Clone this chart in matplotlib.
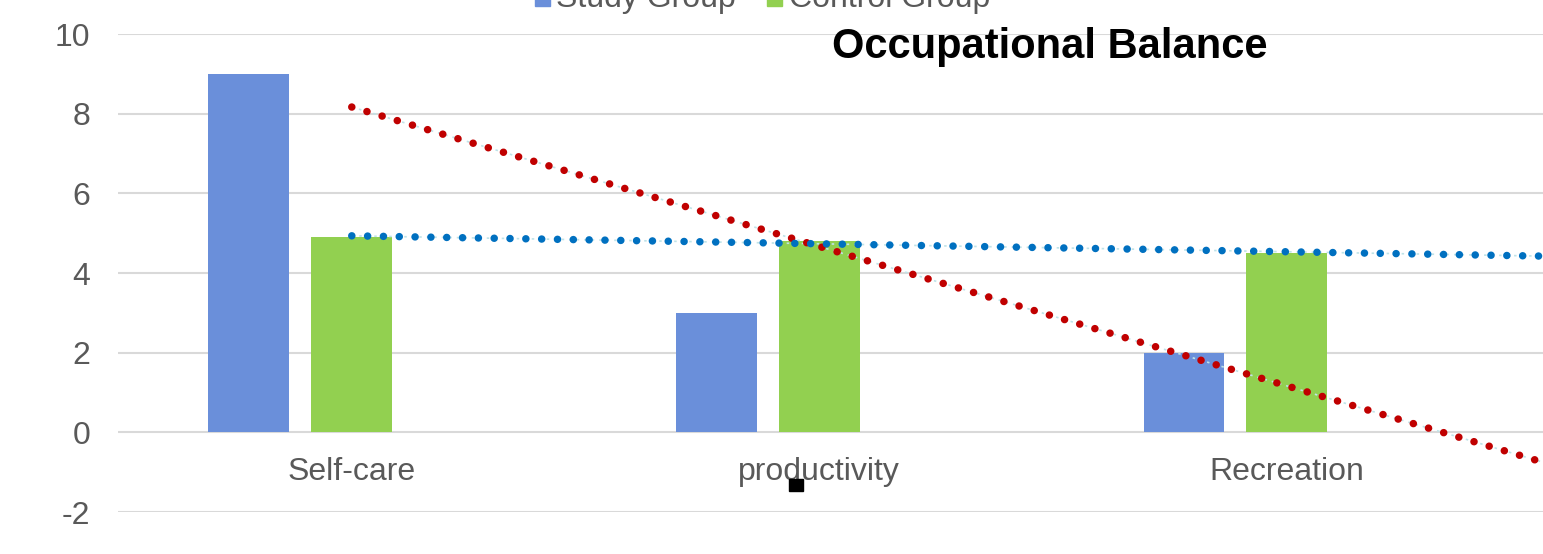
import numpy as np
import matplotlib
matplotlib.use("Agg")
import matplotlib.pyplot as plt
from matplotlib.patches import Rectangle

categories = ["Self-care", "productivity", "Recreation"]
study = [9, 3, 2]
control = [4.9, 4.8, 4.5]
yticks = [-2, 0, 2, 4, 6, 8, 10]

W, H = 1543, 554
plt.rcParams['font.family'] = ['Liberation Sans', 'DejaVu Sans']
fig = plt.figure(figsize=(W / 100, H / 100), dpi=100)

def fx(px):
    return px / W

def fy(py):
    return 1 - py / H

ax = fig.add_axes([fx(118), fy(512), 1 - fx(118), fy(34) - fy(512)])
x = np.arange(len(categories))
bw = 0.173
ax.bar(x - 0.22, study, bw, color="#6A8FDA", zorder=3)
ax.bar(x, control, bw, color="#92D050", zorder=3)

xmax = 2.548
ax.set_xlim(-0.5, xmax)
ax.set_ylim(-2, 10)

# linear trendlines
xt = np.linspace(0, xmax, 200)
for vals, col in [(study, "#C00000"), (control, "#0070C0")]:
    m, b = np.polyfit(x, vals, 1)
    ax.plot(xt, m * xt + b, color="#BFE3E8", lw=1.2, ls=(0, (1.5, 3)), zorder=4)
    ax.plot(xt, m * xt + b, color=col, lw=5.4, ls=(0, (0.01, 2.1)),
            dash_capstyle="round", zorder=5)

ax.set_yticks(yticks)
ax.set_yticklabels([str(v) for v in yticks])
ax.set_xticks([])
for xi, lab in zip(x, categories):
    ax.annotate(lab, (xi, 0), xytext=(0, -28.5), textcoords="offset points",
                ha="center", va="center", fontsize=23, color="#595959")
ax.yaxis.grid(True, color="#D9D9D9", lw=1.5, zorder=0)
ax.set_axisbelow(True)
for s in ax.spines.values():
    s.set_visible(False)
ax.tick_params(axis="y", length=0, pad=20, labelsize=23, labelcolor="#595959")

fig.text(fx(1050), fy(47), "Occupational Balance", ha="center", va="center",
         fontsize=30, fontweight="bold", color="black")

# legend (cropped at top)
fig.patches.append(Rectangle((fx(535), fy(6)), 15 / W, 15 / H,
                             transform=fig.transFigure, color="#6A8FDA"))
fig.text(fx(556), fy(7), "Study Group", ha="left", va="baseline",
         fontsize=23, color="#595959")
fig.patches.append(Rectangle((fx(767), fy(6)), 15 / W, 15 / H,
                             transform=fig.transFigure, color="#92D050"))
fig.text(fx(789), fy(7), "Control Group", ha="left", va="baseline",
         fontsize=23, color="#595959")

# small selection marker artifact
fig.patches.append(Rectangle((fx(789), fy(491)), 14 / W, 12 / H,
                             transform=fig.transFigure, color="black", zorder=10))

fig.savefig("out.png", dpi=100)
